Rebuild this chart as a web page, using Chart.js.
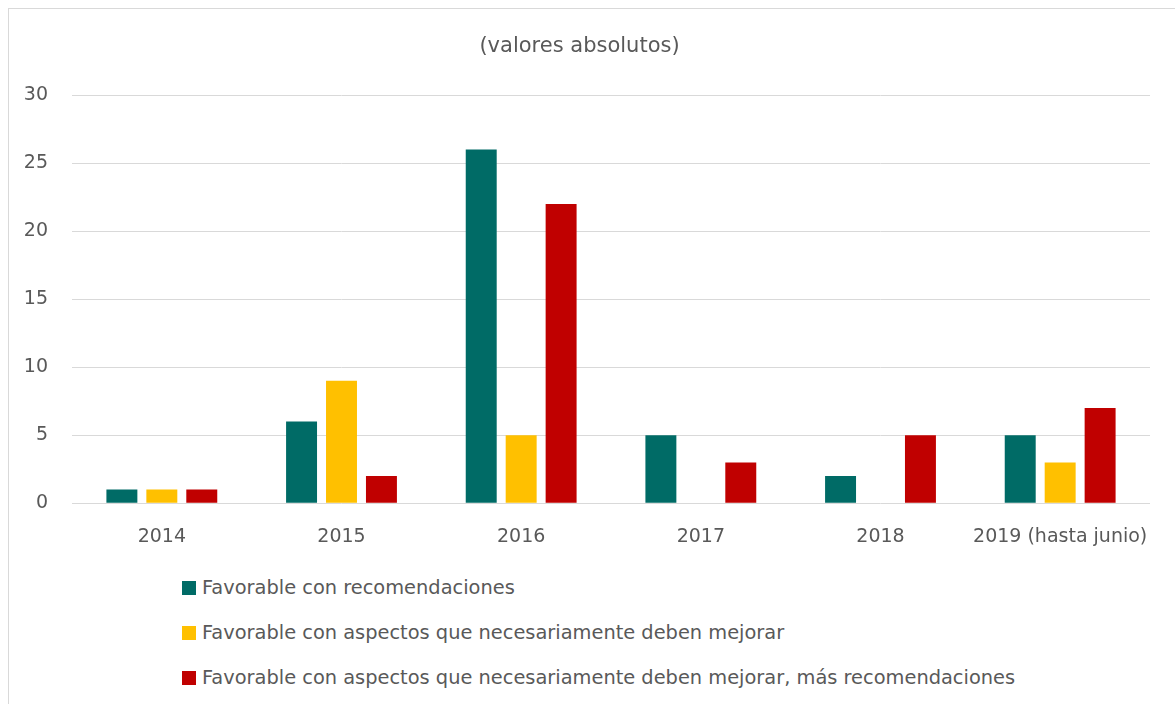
<!DOCTYPE html>
<html>
<head>
<meta charset="utf-8">
<script src="https://cdn.jsdelivr.net/npm/chart.js@4"></script>
<style>
    body { margin: 0; background: #fff; font-family: "DejaVu Sans", sans-serif; }
    #frame {
        position: absolute; left: 8px; top: 8px;
        width: 1200px; height: 720px;
        border: 1px solid #d9d9d9;
    }
    #wrap { position: absolute; left: 0; top: 0; width: 1160px; height: 554px; }
    #legend { position: absolute; left: 173px; top: 556px; }
    .item { height: 45px; display: flex; align-items: center; color: #595959; font-size: 19.4px; }
    .box { width: 14px; height: 14px; margin-right: 6px; }
</style>
</head>
<body>
<div id="frame">
    <div id="wrap"><canvas id="chart"></canvas></div>
    <div id="legend"></div>
</div>
<script>
const years = ['2014', '2015', '2016', '2017', '2018', '2019 (hasta junio)'];
const seriesNames = [
    'Favorable con recomendaciones',
    'Favorable con aspectos que necesariamente deben mejorar',
    'Favorable con aspectos que necesariamente deben mejorar, más recomendaciones'
];
const recomendaciones = [1, 6, 26, 5, 2, 5];
const aspectos = [1, 9, 5, 0, 0, 3];
const aspectosMas = [1, 2, 22, 3, 5, 7];
const colors = ['#006B66', '#FFC000', '#C00000'];

const txt = '#595959';

const chart = new Chart(document.getElementById('chart'), {
    type: 'bar',
    data: {
        labels: years,
        datasets: [recomendaciones, aspectos, aspectosMas].map((d, i) => ({
            label: seriesNames[i],
            data: d,
            backgroundColor: colors[i],
            categoryPercentage: 0.667,
            barPercentage: 0.775
        }))
    },
    options: {
        responsive: true,
        maintainAspectRatio: false,
        animation: false,
        layout: { padding: { left: 0, right: 19, top: 25, bottom: 0 } },
        plugins: {
            legend: { display: false },
            tooltip: { enabled: false },
            title: {
                display: true,
                text: '(valores absolutos)',
                color: txt,
                font: { family: 'DejaVu Sans', size: 21, weight: 'normal' },
                padding: { top: 0, bottom: 36 }
            }
        },
        scales: {
            x: {
                grid: { display: false },
                border: { display: false },
                ticks: {
                    color: txt,
                    font: { family: 'DejaVu Sans', size: 19 },
                    padding: 14.5,
                    maxRotation: 0,
                    minRotation: 0,
                    autoSkip: false
                }
            },
            y: {
                min: 0,
                max: 30,
                ticks: { stepSize: 5, color: txt, font: { family: 'DejaVu Sans', size: 19 }, padding: 24 },
                grid: { color: '#d9d9d9', drawTicks: false },
                border: { display: false },
                afterFit: s => { s.width = 63; }
            }
        }
    }
});

// legend as plain html, one item per line
const legend = document.getElementById('legend');
chart.data.datasets.forEach(ds => {
    const row = document.createElement('div');
    row.className = 'item';
    row.innerHTML = '<span class="box" style="background:' + ds.backgroundColor + '"></span>' + ds.label;
    legend.appendChild(row);
});
</script>
</body>
</html>
